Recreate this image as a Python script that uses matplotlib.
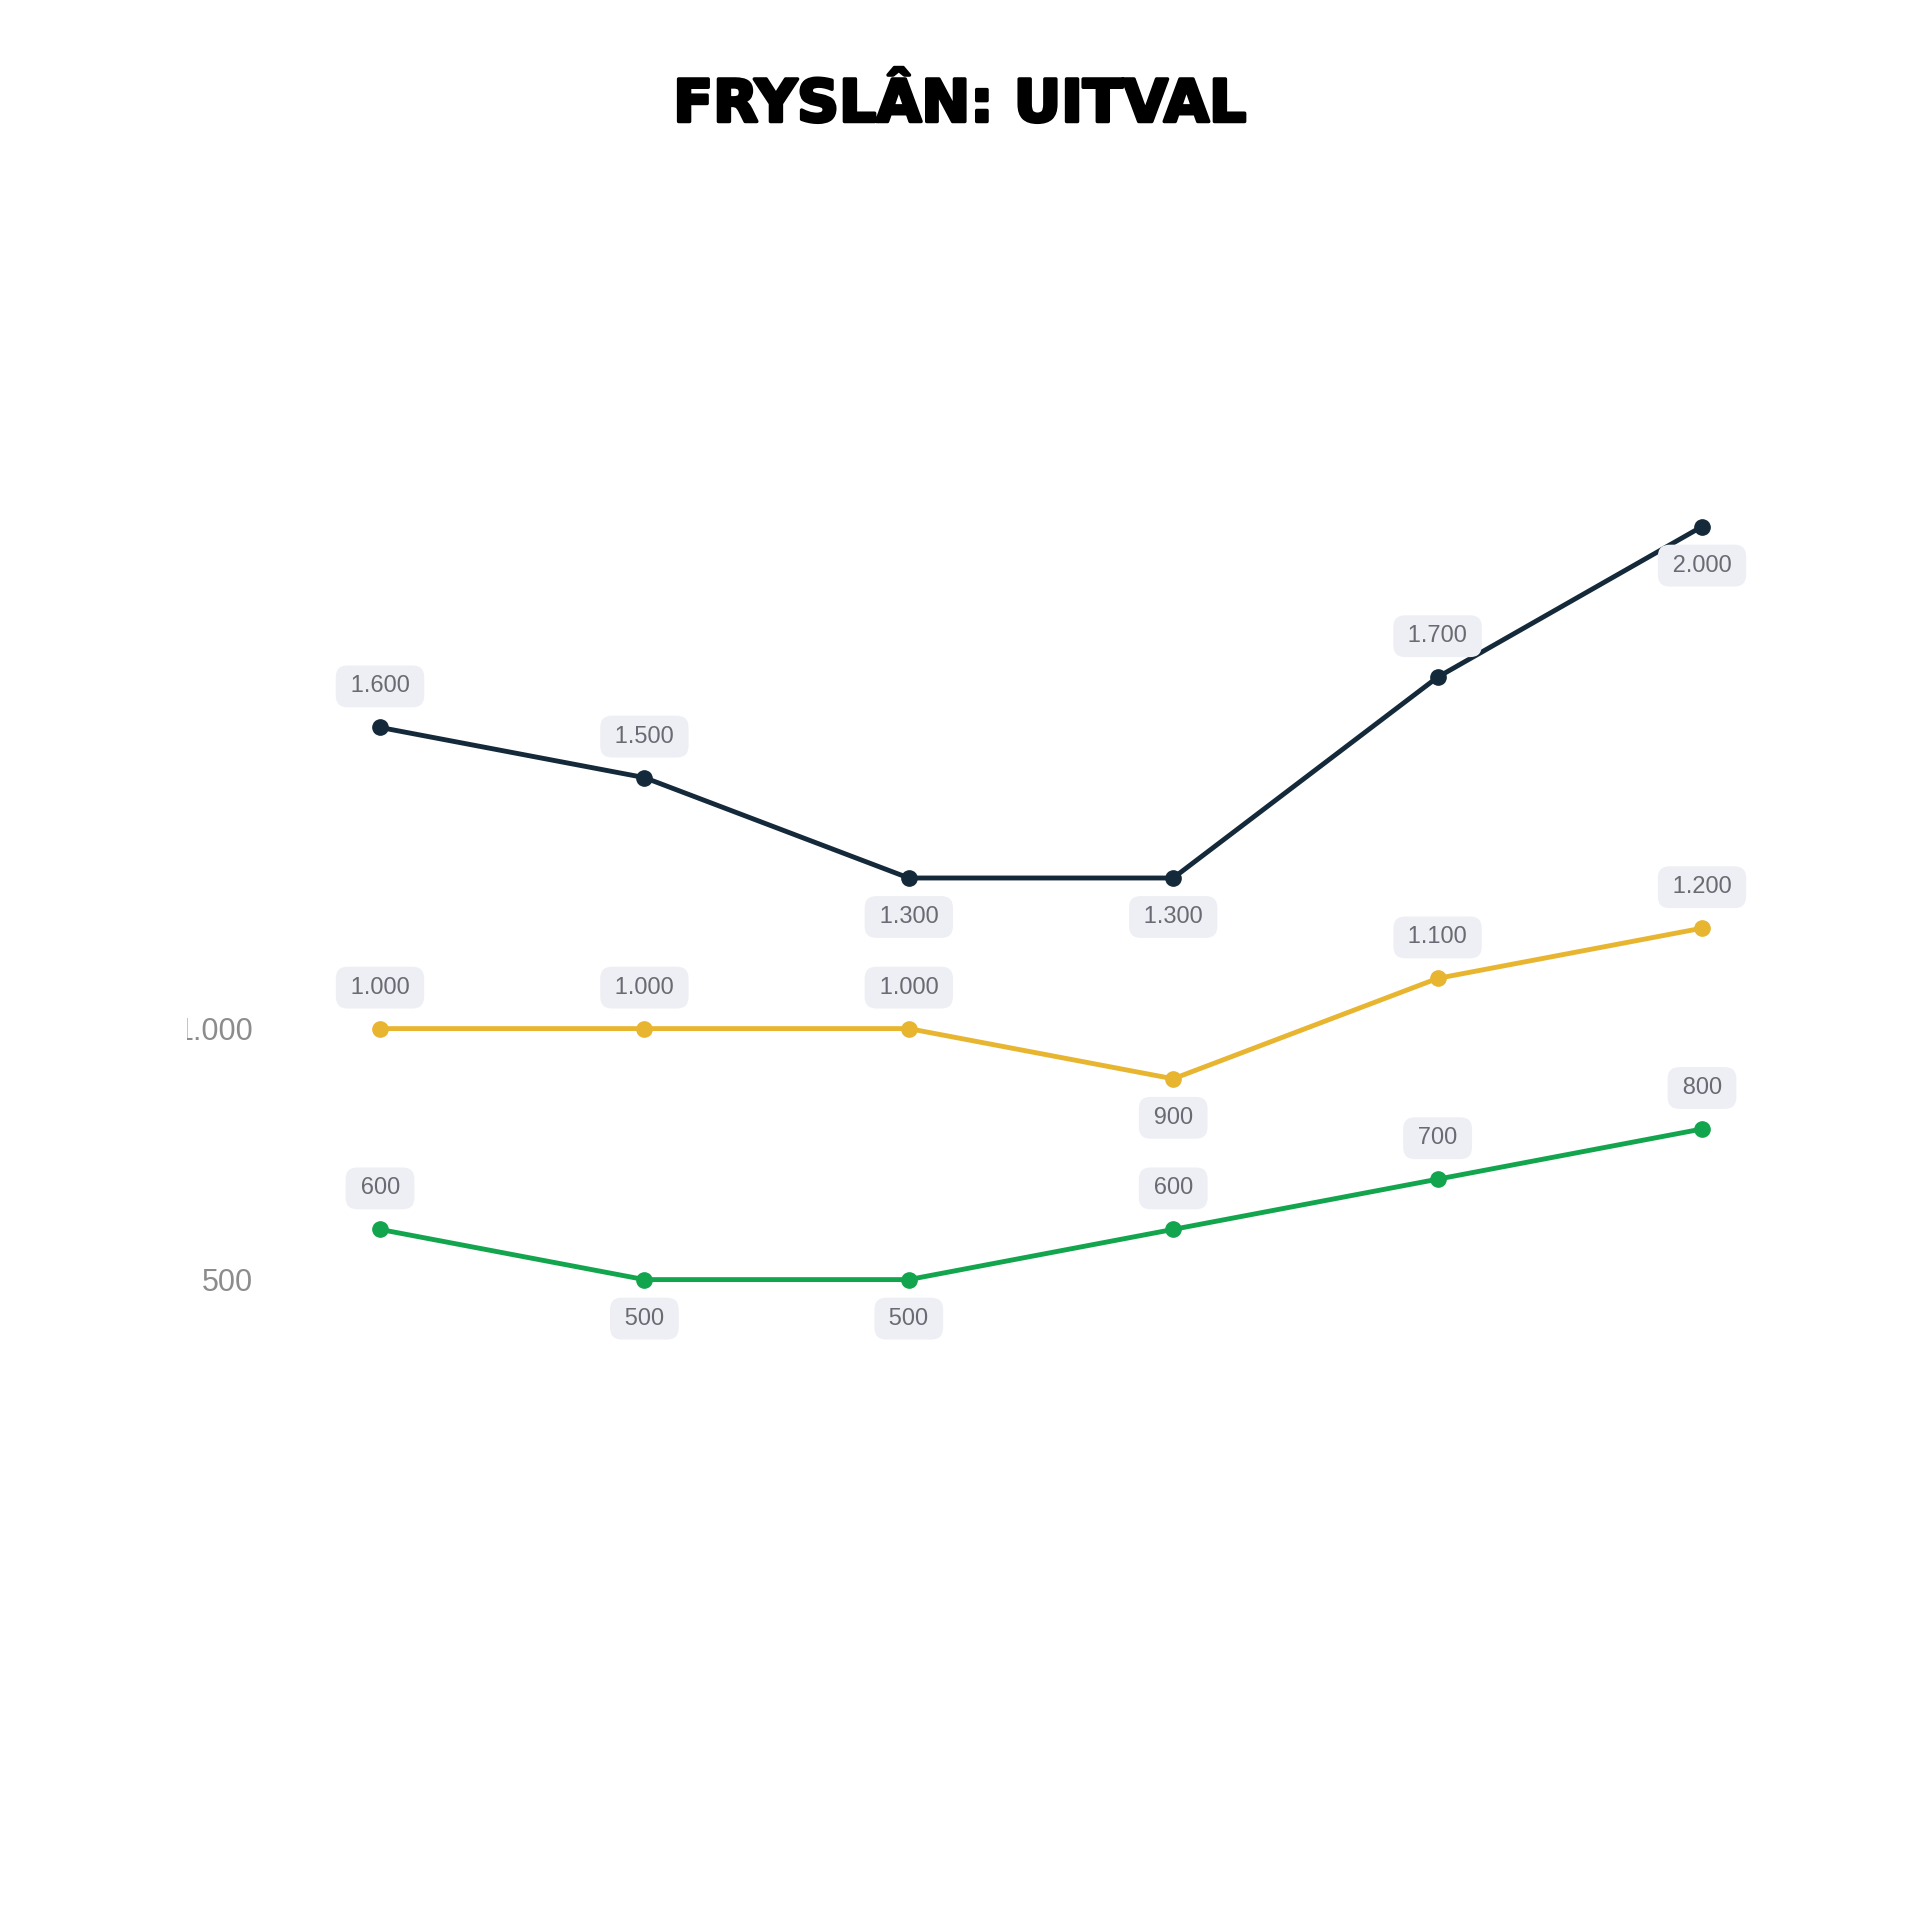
import matplotlib
matplotlib.use("Agg")
import matplotlib.pyplot as plt
import matplotlib.patheffects as pe
from matplotlib.patches import Rectangle

# ---------- data ----------
periods      = [0, 1, 2, 3, 4, 5]
dark_values  = [1600, 1500, 1300, 1300, 1700, 2000]
gold_values  = [1000, 1000, 1000, 900, 1100, 1200]
green_values = [600, 500, 500, 600, 700, 800]
# label above (+1) or below (-1) the point
dark_side  = [1, 1, -1, -1, 1, -1]
gold_side  = [1, 1, 1, -1, 1, 1]
green_side = [1, -1, -1, 1, 1, 1]
ytick_values = [500, 1000]
ytick_labels = ["500", "1.000"]
title = "FRYSLÂN: UITVAL"

colors = {"dark": "#14293a", "gold": "#e8b530", "green": "#13a54d"}

def fmt(v):
    return f"{v:,}".replace(",", ".")

W, H = 1920, 1921
fig = plt.figure(figsize=(W / 100, H / 100), dpi=100)
fig.patch.set_facecolor("white")

# axes in pixel coords
ax_l, ax_r, ax_t, ax_b = 260, 1820, 300, 1500
ax = fig.add_axes([ax_l / W, 1 - ax_b / H, (ax_r - ax_l) / W, (ax_b - ax_t) / H])

x0_px, x5_px = 380, 1702
ppu_x = (x5_px - x0_px) / 5
ax.set_xlim((ax_l - x0_px) / ppu_x, (ax_r - x0_px) / ppu_x)
y1000_px, ppu_y = 1028.6, 0.502
ax.set_ylim(1000 - (ax_b - y1000_px) / ppu_y, 1000 + (y1000_px - ax_t) / ppu_y)

for vals, sides, key in [(dark_values, dark_side, "dark"),
                         (gold_values, gold_side, "gold"),
                         (green_values, green_side, "green")]:
    ax.plot(periods, vals, color=colors[key], linewidth=3.5, marker="o",
            markersize=11, solid_capstyle="round", zorder=3)
    for x, v, s in zip(periods, vals, sides):
        ax.annotate("\u2009" + fmt(v) + "\u2009", (x, v),
                    xytext=(0, 41 if s > 0 else -39),
                    textcoords="offset pixels", ha="center", va="center",
                    fontsize=17, color="#6a6a74", family="Liberation Sans",
                    bbox=dict(boxstyle="round,pad=0.42,rounding_size=0.5",
                              facecolor="#eeeff4", edgecolor="none"),
                    zorder=4)

ax.set_yticks(ytick_values)
ax.set_yticklabels(ytick_labels)
ax.tick_params(axis="y", length=0, pad=5, labelsize=22, labelcolor="#8c8c8c")
ax.tick_params(axis="x", length=0, labelbottom=False)
for lbl in ax.get_yticklabels():
    lbl.set_family("Liberation Sans")
for sp in ax.spines.values():
    sp.set_visible(False)
ax.set_facecolor("none")

# left edge of the pasted chart cuts off part of the first tick label
fig.patches.append(Rectangle((0, 0), 187 / W, 1, transform=fig.transFigure,
                             facecolor="white", edgecolor="none", zorder=10))

fig.text(0.5, 1 - 105 / H, title, ha="center", va="center",
         fontsize=42, fontweight="bold", family="DejaVu Sans",
         color="black",
         path_effects=[pe.withStroke(linewidth=2.5, foreground="black")])

fig.savefig("out.png", dpi=100, facecolor="white")
